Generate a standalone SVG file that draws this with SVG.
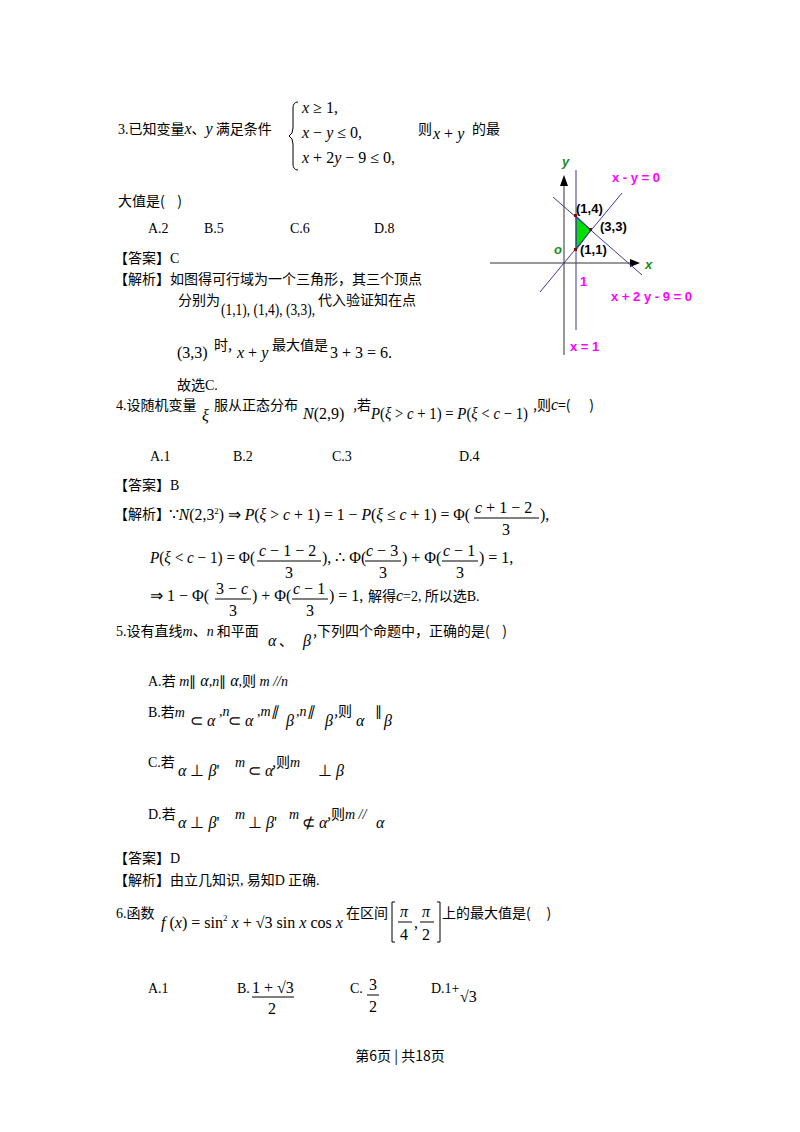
<svg xmlns="http://www.w3.org/2000/svg" width="800" height="1132" viewBox="0 0 800 1132">
<style>
.c{font-family:"Noto Sans CJK SC","Liberation Sans",sans-serif;font-size:14px;fill:#000}
.m{font-family:"Liberation Serif",serif;font-size:16px;fill:#000}
.i{font-style:italic}
.s{font-family:"Liberation Serif",serif;font-size:14px}
.g{font-family:"Liberation Sans",sans-serif;font-weight:bold;font-size:13px}
.p{fill:#ff00ff}
.ln{stroke:#3a3a9a;stroke-width:1}
.fr{stroke:#000;stroke-width:1}
</style>
<rect width="800" height="1132" fill="#fff"/>
<g id="q3">
<text class="c" x="118" y="134"><tspan class="s">3.</tspan>已知变量<tspan class="m i">x</tspan>、<tspan class="m i">y</tspan> 满足条件</text>
<path d="M298,102 q-5,0 -5,6 v20 q0,6 -4,8 q4,2 4,8 v20 q0,6 5,6" fill="none" stroke="#000"/>
<text class="m" x="302" y="113"><tspan class="i">x</tspan> ≥ 1,</text>
<text class="m" x="302" y="138"><tspan class="i">x</tspan> − <tspan class="i">y</tspan> ≤ 0,</text>
<text class="m" x="302" y="163"><tspan class="i">x</tspan> + 2<tspan class="i">y</tspan> − 9 ≤ 0,</text>
<text class="c" x="418" y="134">则</text>
<text class="m" x="433" y="139"><tspan class="i">x</tspan> + <tspan class="i">y</tspan></text>
<text class="c" x="472" y="134">的最</text>
<text class="c" x="118" y="206">大值是(&#160;&#160;&#160;&#160;)</text>
<text class="s" x="148" y="233">A.2</text><text class="s" x="204" y="233">B.5</text><text class="s" x="290" y="233">C.6</text><text class="s" x="374" y="233">D.8</text>
<text class="c" x="114" y="263">【答案】<tspan class="s">C</tspan></text>
<text class="c" x="114" y="284">【解析】如图得可行域为一个三角形，其三个顶点</text>
<text class="c" x="178" y="305">分别为</text>
<text class="m" x="221" y="315" textLength="94" lengthAdjust="spacingAndGlyphs">(1,1), (1,4), (3,3),</text>
<text class="c" x="318" y="305">代入验证知在点</text>
<text class="m" x="177" y="358">(3,3)</text>
<text class="c" x="214" y="350">时,</text>
<text class="m" x="237" y="358"><tspan class="i">x</tspan> + <tspan class="i">y</tspan></text>
<text class="c" x="272" y="350">最大值是</text>
<text class="m" x="330" y="358">3 + 3 = 6.</text>
<text class="c" x="177" y="390">故选<tspan class="s">C.</tspan></text>
</g>
<g id="graph">
<polygon points="576,216 591,230 576,250" fill="#00e000" stroke="#3a3a9a"/>
<line x1="490" y1="263" x2="638" y2="263" stroke="#333"/>
<polygon points="640,263 630,259 630,267" fill="#000"/>
<line x1="564" y1="178" x2="564" y2="355" stroke="#333"/>
<polygon points="564,175 560,186 568,186" fill="#000"/>
<line class="ln" x1="576" y1="170" x2="576" y2="330"/>
<line class="ln" x1="540" y1="292" x2="622" y2="193"/>
<line class="ln" x1="553" y1="197" x2="642" y2="275"/>
<rect x="574" y="214" width="3" height="3" fill="#800"/>
<rect x="589" y="228" width="3" height="3" fill="#800"/>
<rect x="574" y="248" width="3" height="3" fill="#800"/>
<text class="g i" x="562" y="166" fill="#228b22" font-size="10">y</text>
<text class="g i" x="645" y="269" fill="#228b22" font-size="10">x</text>
<text class="g i" x="554" y="254" fill="#228b22" font-size="9">o</text>
<text class="g" x="576" y="213">(1,4)</text>
<text class="g" x="600" y="231">(3,3)</text>
<text class="g" x="580" y="254">(1,1)</text>
<text class="g p" x="580" y="286">1</text>
<text class="g p" x="612" y="182">x - y = 0</text>
<text class="g p" x="611" y="301">x + 2 y - 9 = 0</text>
<text class="g p" x="570" y="351">x = 1</text>
</g>
<g id="q4">
<text class="c" x="116" y="410"><tspan class="s">4.</tspan>设随机变量</text>
<text class="m i" x="202" y="421">ξ</text>
<text class="c" x="214" y="410">服从正态分布</text>
<text class="m" x="303" y="419"><tspan class="i">N</tspan>(2,9)</text>
<text class="c" x="353" y="410">,若</text>
<text class="m" x="371" y="419" textLength="157" lengthAdjust="spacingAndGlyphs"><tspan class="i">P</tspan>(<tspan class="i">ξ</tspan> &gt; <tspan class="i">c</tspan> + 1) = <tspan class="i">P</tspan>(<tspan class="i">ξ</tspan> &lt; <tspan class="i">c</tspan> − 1)</text>
<text class="c" x="533" y="410">,则<tspan class="m i" font-size="13">c</tspan>=(&#160;&#160;&#160;&#160;&#160;&#160;)</text>
<text class="s" x="150" y="461">A.1</text><text class="s" x="233" y="461">B.2</text><text class="s" x="332" y="461">C.3</text><text class="s" x="459" y="461">D.4</text>
<text class="c" x="114" y="490">【答案】<tspan class="s">B</tspan></text>
<text class="c" x="114" y="519">【解析】</text>
<text class="m" x="169" y="520" textLength="301" lengthAdjust="spacingAndGlyphs">∵<tspan class="i">N</tspan>(2,3<tspan font-size="9" dy="-6">2</tspan><tspan dy="6">) ⇒ </tspan><tspan class="i">P</tspan>(<tspan class="i">ξ</tspan> &gt; <tspan class="i">c</tspan> + 1) = 1 − <tspan class="i">P</tspan>(<tspan class="i">ξ</tspan> ≤ <tspan class="i">c</tspan> + 1) = Φ(</text>
<text class="m" x="475" y="513"><tspan class="i">c</tspan> + 1 − 2</text>
<line class="fr" x1="474" y1="518" x2="539" y2="518"/>
<text class="m" x="502" y="535">3</text>
<text class="m" x="540" y="520">),</text>
<text class="m" x="150" y="563" textLength="105" lengthAdjust="spacingAndGlyphs"><tspan class="i">P</tspan>(<tspan class="i">ξ</tspan> &lt; <tspan class="i">c</tspan> − 1) = Φ(</text>
<text class="m" x="259" y="556"><tspan class="i">c</tspan> − 1 − 2</text>
<line class="fr" x1="257" y1="561" x2="321" y2="561"/>
<text class="m" x="285" y="578">3</text>
<text class="m" x="322" y="563">), ∴ Φ(</text>
<text class="m" x="366" y="556"><tspan class="i">c</tspan> − 3</text>
<line class="fr" x1="365" y1="561" x2="401" y2="561"/>
<text class="m" x="379" y="578">3</text>
<text class="m" x="402" y="563">) + Φ(</text>
<text class="m" x="443" y="556"><tspan class="i">c</tspan> − 1</text>
<line class="fr" x1="442" y1="561" x2="478" y2="561"/>
<text class="m" x="456" y="578">3</text>
<text class="m" x="479" y="563">) = 1,</text>
<text class="m" x="150" y="601">⇒ 1 − Φ(</text>
<text class="m" x="216" y="594">3 − <tspan class="i">c</tspan></text>
<line class="fr" x1="215" y1="599" x2="251" y2="599"/>
<text class="m" x="229" y="616">3</text>
<text class="m" x="252" y="601">) + Φ(</text>
<text class="m" x="293" y="594"><tspan class="i">c</tspan> − 1</text>
<line class="fr" x1="292" y1="599" x2="328" y2="599"/>
<text class="m" x="306" y="616">3</text>
<text class="m" x="329" y="601">) = 1,</text>
<text class="c" x="368" y="601">解得<tspan class="m i" font-size="13">c</tspan><tspan class="s" font-size="12">=2,</tspan> 所以选<tspan class="s">B.</tspan></text>
</g>
<g id="q5">
<text class="c" x="116" y="636"><tspan class="s">5.</tspan>设有直线<tspan class="s i" font-size="12">m</tspan>、<tspan class="s i" font-size="12">n</tspan> 和平面</text>
<text class="m i" x="268" y="646">α</text><text class="c" x="279" y="646">、</text>
<text class="m i" x="303" y="646">β</text>
<text class="c" x="313" y="636">,下列四个命题中，正确的是(&#160;&#160;&#160;&#160;)</text>
<text class="c" x="148" y="686"><tspan class="s">A.</tspan>若<tspan class="s i" font-size="12"> m</tspan><tspan class="s" font-size="11">∥</tspan><tspan class="m i"> α</tspan><tspan class="s">,</tspan><tspan class="s i" font-size="12">n</tspan><tspan class="s" font-size="11">∥</tspan><tspan class="m i"> α</tspan><tspan class="s">,</tspan>则<tspan class="s i" font-size="12"> m //n</tspan></text>
<text class="c" x="148" y="717"><tspan class="s">B.</tspan>若<tspan class="s i" font-size="12">m</tspan></text>
<text class="m" x="190" y="726">⊂ <tspan class="i">α</tspan></text>
<text class="s i" x="219" y="716" font-size="12">,n</text>
<text class="m" x="228" y="726">⊂ <tspan class="i">α</tspan></text>
<text class="s i" x="257" y="716" font-size="12">,m∥</text>
<text class="m i" x="286" y="726">β</text>
<text class="s i" x="296" y="716" font-size="12">,n∥</text>
<text class="m i" x="325" y="726">β</text>
<text class="c" x="334" y="716">,则</text>
<text class="m i" x="356" y="726">α</text>
<text class="s" x="375" y="716" font-size="11">∥</text>
<text class="m i" x="384" y="726">β</text>
<text class="c" x="148" y="767"><tspan class="s">C.</tspan>若</text>
<text class="m" x="178" y="776"><tspan class="i">α</tspan> ⊥ <tspan class="i">β</tspan>'</text>
<text class="s i" x="235" y="767" font-size="12">m</text>
<text class="m" x="248" y="776">⊂ <tspan class="i">α</tspan></text>
<text class="c" x="272" y="767">,则<tspan class="s i" font-size="12">m</tspan></text>
<text class="m" x="318" y="776">⊥ <tspan class="i">β</tspan></text>
<text class="c" x="148" y="819"><tspan class="s">D.</tspan>若</text>
<text class="m" x="178" y="828"><tspan class="i">α</tspan> ⊥ <tspan class="i">β</tspan>'</text>
<text class="s i" x="235" y="819" font-size="12">m</text>
<text class="m" x="248" y="828">⊥ <tspan class="i">β</tspan>'</text>
<text class="s i" x="289" y="819" font-size="12">m</text>
<text class="m" x="302" y="828">⊄ <tspan class="i">α</tspan></text>
<text class="c" x="327" y="819">,则<tspan class="s i" font-size="12">m</tspan><tspan class="s i" font-size="11"> //</tspan></text>
<text class="m i" x="376" y="828">α</text>
<text class="c" x="114" y="863">【答案】<tspan class="s">D</tspan></text>
<text class="c" x="114" y="885">【解析】由立几知识<tspan class="s">,</tspan> 易知<tspan class="s">D</tspan> 正确<tspan class="s">.</tspan></text>
</g>
<g id="q6">
<text class="c" x="116" y="918"><tspan class="s">6.</tspan>函数</text>
<text class="m" x="161" y="928" textLength="182" lengthAdjust="spacingAndGlyphs"><tspan class="i">f</tspan> (<tspan class="i">x</tspan>) = sin<tspan font-size="9" dy="-7">2</tspan><tspan dy="7"> </tspan><tspan class="i">x</tspan> + √3 sin <tspan class="i">x</tspan> cos <tspan class="i">x</tspan></text>
<text class="c" x="346" y="918">在区间</text>
<path d="M395,902 h-3 v40 h3 M437,902 h3 v40 h-3" fill="none" stroke="#000"/>
<text class="m i" x="400" y="917">π</text>
<line class="fr" x1="398" y1="922" x2="412" y2="922"/>
<text class="m" x="400" y="940">4</text>
<text class="m" x="414" y="928">,</text>
<text class="m i" x="422" y="917">π</text>
<line class="fr" x1="420" y1="922" x2="434" y2="922"/>
<text class="m" x="422" y="940">2</text>
<text class="c" x="442" y="918">上的最大值是(&#160;&#160;&#160;&#160;&#160;)</text>
<text class="s" x="148" y="993">A.1</text>
<text class="s" x="237" y="993">B.</text>
<text class="m" x="252" y="993">1 + √3</text>
<line class="fr" x1="252" y1="997" x2="294" y2="997"/>
<text class="m" x="268" y="1014">2</text>
<text class="s" x="350" y="993">C.</text>
<text class="m" x="369" y="990">3</text>
<line class="fr" x1="367" y1="995" x2="379" y2="995"/>
<text class="m" x="369" y="1012">2</text>
<text class="s" x="431" y="993">D.1+</text>
<text class="m" x="460" y="1002">√3</text>
</g>
<text class="c" x="400" y="1061" text-anchor="middle" font-size="13">第6页 | 共18页</text>
</svg>
